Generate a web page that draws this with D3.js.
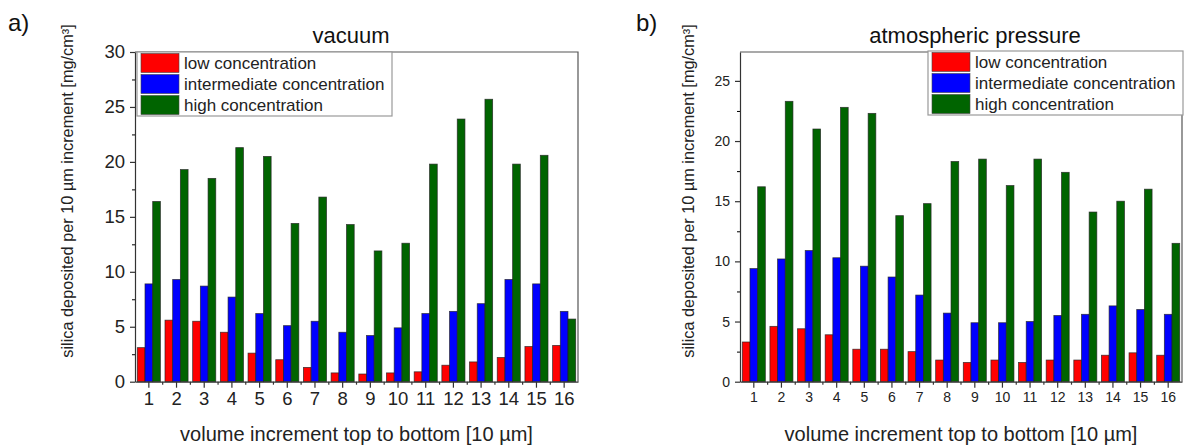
<!DOCTYPE html>
<html>
<head>
<meta charset="utf-8">
<script src="https://cdn.jsdelivr.net/npm/d3@7"></script>
<style>
  body { margin: 0; background: #fff; }
  svg { display: block; font-family: "Liberation Sans", Arial, sans-serif; }
</style>
</head>
<body>
<div id="chart"></div>
<script>
// categories on the x axis (volume increments)
const categories = ["1", "2", "3", "4", "5", "6", "7", "8", "9", "10", "11", "12", "13", "14", "15", "16"];
const seriesNames = ["low concentration", "intermediate concentration", "high concentration"];
const seriesColors = ["#ff0000", "#0000ff", "#006400"];

// panel a) vacuum
const vacuumLow = [3.1, 5.6, 5.5, 4.5, 2.6, 2.0, 1.3, 0.8, 0.7, 0.8, 0.9, 1.5, 1.8, 2.2, 3.2, 3.3];
const vacuumMid = [8.9, 9.3, 8.7, 7.7, 6.2, 5.1, 5.5, 4.5, 4.2, 4.9, 6.2, 6.4, 7.1, 9.3, 8.9, 6.4];
const vacuumHigh = [16.4, 19.3, 18.5, 21.3, 20.5, 14.4, 16.8, 14.3, 11.9, 12.6, 19.8, 23.9, 25.7, 19.8, 20.6, 5.7];

// panel b) atmospheric pressure
const atmLow = [3.3, 4.6, 4.4, 3.9, 2.7, 2.7, 2.5, 1.8, 1.6, 1.8, 1.6, 1.8, 1.8, 2.2, 2.4, 2.2];
const atmMid = [9.4, 10.2, 10.9, 10.3, 9.6, 8.7, 7.2, 5.7, 4.9, 4.9, 5.0, 5.5, 5.6, 6.3, 6.0, 5.6];
const atmHigh = [16.2, 23.3, 21.0, 22.8, 22.3, 13.8, 14.8, 18.3, 18.5, 16.3, 18.5, 17.4, 14.1, 15.0, 16.0, 11.5];

// y tick values
const vacuumTicks = [0, 5, 10, 15, 20, 25, 30];
const atmTicks = [0, 5, 10, 15, 20, 25];

const yLabel = "silica deposited per 10 µm increment [mg/cm³]";
const xLabel = "volume increment top to bottom [10 µm]";

const width = 1184, height = 447;

const svg = d3.select("#chart").append("svg")
    .attr("width", width)
    .attr("height", height);

const drawPanel = (cfg) => {
    const g = svg.append("g");
    const { left, right, top, bottom } = cfg;

    const x = d3.scaleBand().domain(categories).range([left, right]).padding(0);
    // bars inside a group, small gap between groups
    const x1 = d3.scaleBand().domain([0, 1, 2]).range([2.3, x.bandwidth() - 2.3]).padding(0);
    const y = d3.scaleLinear().domain([0, cfg.yMax]).range([bottom, top]);

    // bars
    cfg.series.forEach((values, si) => {
        g.append("g")
            .selectAll("rect")
            .data(values)
            .join("rect")
            .attr("x", (d, i) => x(categories[i]) + x1(si))
            .attr("y", d => y(d))
            .attr("width", x1.bandwidth())
            .attr("height", d => y(0) - y(d))
            .attr("fill", seriesColors[si])
            .attr("stroke", "#222")
            .attr("stroke-opacity", 0.8)
            .attr("stroke-width", 0.8);
    });

    // frame: top and right
    g.append("path")
        .attr("d", `M${left},${top}H${right}V${bottom}`)
        .attr("fill", "none")
        .attr("stroke", "#555")
        .attr("stroke-width", 1.2);

    // x axis
    const xAxis = g.append("g")
        .attr("transform", `translate(0,${bottom})`)
        .call(d3.axisBottom(x).tickSize(6).tickSizeOuter(0).tickPadding(4));
    xAxis.selectAll("text").attr("font-size", cfg.tickFont).attr("fill", "#222");
    // minor ticks on the band edges
    xAxis.append("g")
        .selectAll("line")
        .data(categories.slice(1))
        .join("line")
        .attr("x1", d => x(d)).attr("x2", d => x(d))
        .attr("y1", 0).attr("y2", 3)
        .attr("stroke", "#333");

    // y axis
    const yAxis = g.append("g")
        .attr("transform", `translate(${left},0)`)
        .call(d3.axisLeft(y).tickValues(cfg.ticks).tickSize(5).tickSizeOuter(0).tickPadding(5));
    yAxis.selectAll("text").attr("font-size", cfg.tickFont).attr("fill", "#222");
    g.append("g")
        .attr("transform", `translate(${left},0)`)
        .call(d3.axisLeft(y).tickValues(cfg.ticks.map(t => t + 2.5).filter(t => t < cfg.yMax))
            .tickSize(3).tickFormat(""))
        .call(a => a.select(".domain").remove());

    [xAxis, yAxis].forEach(a => a.selectAll(".domain, line").attr("stroke", "#333").attr("stroke-width", 1.2));

    // title
    g.append("text")
        .attr("x", cfg.titleX).attr("y", 43)
        .attr("text-anchor", "middle")
        .attr("font-size", 22)
        .attr("fill", "#111")
        .text(cfg.title);

    // panel letter
    g.append("text")
        .attr("x", cfg.letterX).attr("y", 31)
        .attr("font-size", 24)
        .attr("fill", "#111")
        .text(cfg.letter);

    // axis labels
    g.append("text")
        .attr("transform", `translate(${cfg.yLabelX},191) rotate(-90)`)
        .attr("text-anchor", "middle")
        .attr("dy", "0.35em")
        .attr("font-size", 16.3)
        .attr("fill", "#222")
        .text(yLabel);
    g.append("text")
        .attr("x", (left + right) / 2).attr("y", 441)
        .attr("text-anchor", "middle")
        .attr("font-size", 20)
        .attr("fill", "#222")
        .text(xLabel);

    // legend
    const lg = g.append("g").attr("transform", `translate(${cfg.legendX},${cfg.legendY})`);
    lg.append("rect")
        .attr("width", 255).attr("height", 64)
        .attr("fill", "#fff")
        .attr("stroke", "#999")
        .attr("stroke-width", 1.2);
    seriesNames.forEach((name, i) => {
        lg.append("rect")
            .attr("x", 4).attr("y", 1.5 + i * 21)
            .attr("width", 38).attr("height", 19)
            .attr("fill", seriesColors[i])
            .attr("stroke", "#444")
            .attr("stroke-width", 0.6);
        lg.append("text")
            .attr("x", 47).attr("y", 11 + i * 21)
            .attr("dy", "0.35em")
            .attr("font-size", 17)
            .attr("fill", "#222")
            .text(name);
    });
};

drawPanel({
    left: 135, right: 578, top: 52, bottom: 381.7,
    yMax: 30, ticks: vacuumTicks, tickFont: 18.5,
    series: [vacuumLow, vacuumMid, vacuumHigh],
    title: "vacuum", titleX: 351, letter: "a)", letterX: 8, yLabelX: 67,
    legendX: 137, legendY: 52
});

drawPanel({
    left: 740, right: 1182, top: 52, bottom: 381.7,
    yMax: 27.4, ticks: atmTicks, tickFont: 14,
    series: [atmLow, atmMid, atmHigh],
    title: "atmospheric pressure", titleX: 975, letter: "b)", letterX: 636, yLabelX: 688,
    legendX: 928, legendY: 51
});
</script>
</body>
</html>
